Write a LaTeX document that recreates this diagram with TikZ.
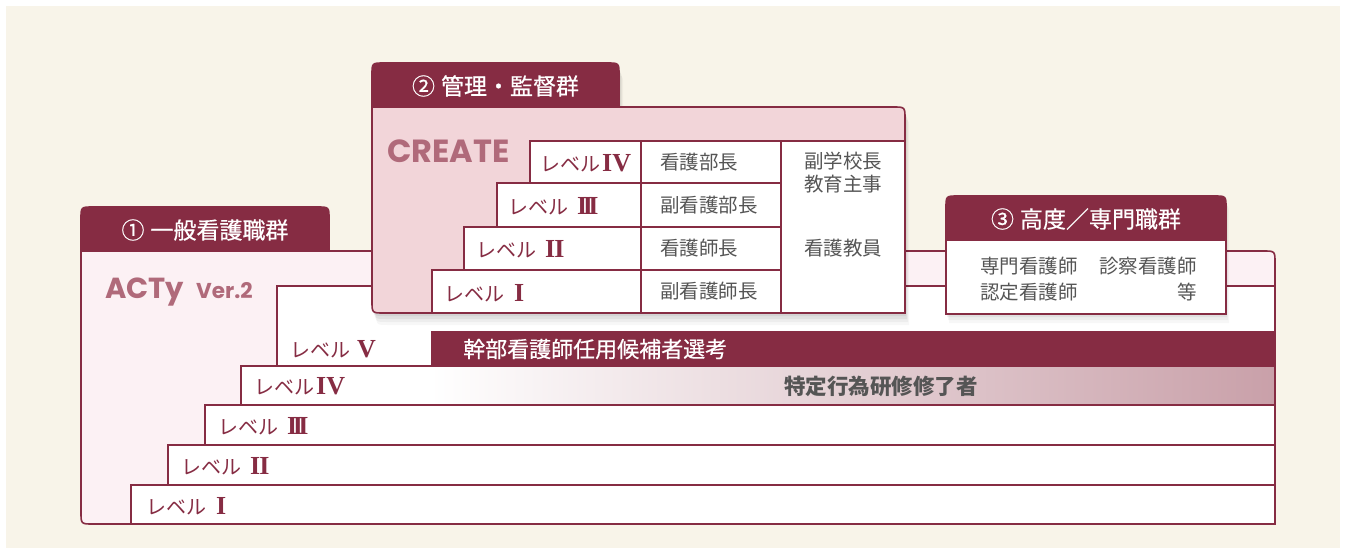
\documentclass[tikz,border=0pt]{standalone}
\usepackage{fontspec}
\setmainfont{Noto Sans CJK JP}
\newfontfamily\jpmed[FakeBold=0.6]{Noto Sans CJK JP}
\newfontfamily\rom{Liberation Serif}
\newfontfamily\geo{Poppins}
\definecolor{wine}{RGB}{134,44,67}
\definecolor{cream}{RGB}{248,244,233}
\definecolor{actyfill}{RGB}{252,241,244}
\definecolor{createfill}{RGB}{242,213,217}
\definecolor{mauve}{RGB}{176,106,122}
\definecolor{graytext}{RGB}{85,85,85}
\definecolor{gradend}{RGB}{201,160,169}
\newcommand\lvnum[1]{{\rom\bfseries\fontsize{26}{26}\selectfont #1}}
\begin{document}
\begin{tikzpicture}[x=1pt,y=-1pt,
  edge/.style={draw=wine, line width=1.6pt},
  lvl/.style={anchor=west, text=wine, inner sep=0pt, font=\fontsize{20}{22}\selectfont},
  cell/.style={text=graytext, inner sep=0pt, font=\fontsize{19.5}{24}\selectfont},
  tabtxt/.style={text=white, inner sep=0pt, font=\jpmed\fontsize{23}{26}\selectfont},
  logo/.style={text=mauve, inner sep=0pt, anchor=base west, font=\geo\bfseries\fontsize{29}{30}\selectfont}]
\useasboundingbox (0,0) rectangle (1346,554);
\fill[white] (0,0) rectangle (1346,554);
\fill[cream] (6,6) rectangle (1340,548);

% ---------- (1) ACTy group ----------
\path[fill=actyfill] (81,251) -- (1263,251) .. controls (1275,251) .. (1275,263) -- (1275,524) -- (93,524) .. controls (81,524) .. (81,512) -- cycle;
\path[fill=wine, draw=wine, line width=1.6pt] (81,251) -- (81,219) .. controls (81,207) .. (93,207) -- (317,207) .. controls (329,207) .. (329,219) -- (329,251) -- cycle;

% level bars
\fill[white] (277,286) rectangle (1275,366);
\fill[white] (241,366) rectangle (1275,405);
\shade[left color=white, right color=gradend] (430,366) rectangle (1275,405);
\fill[white] (205,405) rectangle (1275,445);
\fill[white] (168,445) rectangle (1275,485);
\fill[white] (131,485) rectangle (1275,524);
\fill[wine] (431,331) rectangle (1275,366);
\draw[edge] (277,366) -- (277,286) -- (1275,286);
\draw[edge] (241,405) -- (241,366) -- (1275,366);
\draw[edge] (205,445) -- (205,405) -- (1275,405);
\draw[edge] (168,485) -- (168,445) -- (1275,445);
\draw[edge] (131,524) -- (131,485) -- (1275,485);
\draw[edge] (81,251) -- (1263,251) .. controls (1275,251) .. (1275,263) -- (1275,524) -- (93,524) .. controls (81,524) .. (81,512) -- cycle;

\node[tabtxt] (tab1) at (205,230) {①\hspace{6pt}一般看護職群};
\node[logo] (acty) at (105,298) {ACTy\hspace{12pt}{\fontsize{21.5}{22}\selectfont Ver.2}};

\node[lvl] (a5) at (290,349) {レベル\hspace{7pt}\lvnum{V}};
\node[lvl] (a4) at (254,386) {レベル\hspace{2pt}\lvnum{IV}};
\node[lvl] (a3) at (218,426) {レベル\hspace{9pt}\lvnum{I\kern-4.5pt I\kern-4.5pt I}};
\node[lvl] (a2) at (181,466) {レベル\hspace{9pt}\lvnum{I\kern-1pt I}};
\node[lvl] (a1) at (146,506) {レベル\hspace{10pt}\lvnum{I}};
\node[text=white, inner sep=0pt, anchor=west, font=\jpmed\fontsize{22}{24}\selectfont] (kanbu) at (463,349) {幹部看護師任用候補者選考};
\node[text=graytext, inner sep=0pt, font=\bfseries\fontsize{21.5}{24}\selectfont] (tokutei) at (881,386) {特定行為研修修了者};

% ---------- (2) CREATE group ----------
\foreach \s/\o in {3/0.06,6/0.05,9/0.04,12/0.03}{
  \fill[black, opacity=\o, shift={(\s*0.35,\s)}] (372,301) -- (372,75) .. controls (372,63) .. (384,63) -- (607,63) .. controls (619,63) .. (619,75) -- (619,107) -- (893,107) .. controls (905,107) .. (905,119) -- (905,313) -- (384,313) .. controls (372,313) .. (372,301) -- cycle;
}
\path[fill=createfill, draw=wine, line width=1.6pt] (372,107) -- (893,107) .. controls (905,107) .. (905,119) -- (905,313) -- (384,313) .. controls (372,313) .. (372,301) -- cycle;
\path[fill=wine, draw=wine, line width=1.6pt] (372,107) -- (372,75) .. controls (372,63) .. (384,63) -- (607,63) .. controls (619,63) .. (619,75) -- (619,107) -- cycle;
\node[tabtxt] (tab2) at (495.5,86) {②\hspace{6pt}管理・監督群};
\node[logo, font=\geo\bfseries\fontsize{32}{32}\selectfont] (create) at (387,162) {CREATE};

\path[edge, fill=white] (530,141) rectangle (641,183);
\path[edge, fill=white] (497,183) rectangle (641,227);
\path[edge, fill=white] (464,227) rectangle (641,270);
\path[edge, fill=white] (432,270) rectangle (641,313);
\path[edge, fill=white] (641,141) rectangle (781,183);
\path[edge, fill=white] (641,183) rectangle (781,227);
\path[edge, fill=white] (641,227) rectangle (781,270);
\path[edge, fill=white] (641,270) rectangle (781,313);
\path[edge, fill=white] (781,141) rectangle (905,313);

\node[lvl] (c4) at (540,163) {レベル\hspace{2pt}\lvnum{IV}};
\node[lvl] (c3) at (508,206) {レベル\hspace{9pt}\lvnum{I\kern-4.5pt I\kern-4.5pt I}};
\node[lvl] (c2) at (476,249) {レベル\hspace{9pt}\lvnum{I\kern-1pt I}};
\node[lvl] (c1) at (444,293) {レベル\hspace{10pt}\lvnum{I}};

\node[cell, anchor=west] (r4) at (660,162) {看護部長};
\node[cell, anchor=west] (r3) at (660,205) {副看護部長};
\node[cell, anchor=west] (r2) at (660,248) {看護師長};
\node[cell, anchor=west] (r1) at (660,291) {副看護師長};
\node[cell, align=center] (vice) at (843,173) {副学校長\\[-1pt]教育主事};
\node[cell] (teacher) at (843,248) {看護教員};

% ---------- (3) specialist group ----------
\foreach \s/\o in {3/0.05,6/0.04,9/0.03}{
  \fill[black, opacity=\o, shift={(\s*0.35,\s)}] (946,314) -- (946,208) .. controls (946,196) .. (958,196) -- (1214,196) .. controls (1226,196) .. (1226,208) -- (1226,314) -- cycle;
}
\path[edge, fill=white] (946,240) rectangle (1226,314);
\path[fill=wine, draw=wine, line width=1.6pt] (946,240) -- (946,208) .. controls (946,196) .. (958,196) -- (1214,196) .. controls (1226,196) .. (1226,208) -- (1226,240) -- cycle;
\node[tabtxt] (tab3) at (1086,219) {③\hspace{6pt}高度／専門職群};
\node[cell, anchor=west] (s1) at (980,266) {専門看護師};
\node[cell, anchor=east] (s2) at (1197,266) {診察看護師};
\node[cell, anchor=west] (s3) at (980,292) {認定看護師};
\node[cell, anchor=east] (s4) at (1197,292) {等};
\end{tikzpicture}
\end{document}
